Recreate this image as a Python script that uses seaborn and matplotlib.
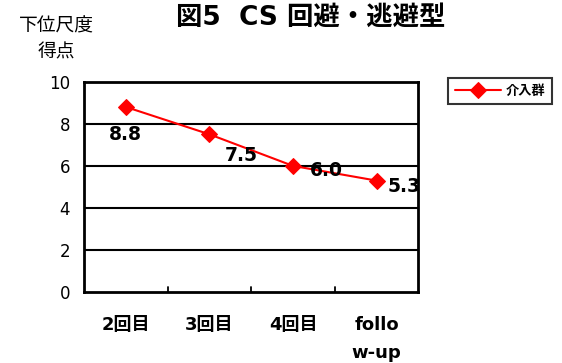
import matplotlib
matplotlib.use("Agg")
import matplotlib.pyplot as plt
import seaborn as sns
import pandas as pd

sns.set_theme(style="white")
plt.rcParams["font.family"] = ["DejaVu Sans", "Noto Sans CJK JP"]
plt.rcParams["text.color"] = "black"
plt.rcParams["xtick.color"] = "black"
plt.rcParams["ytick.color"] = "black"
plt.rcParams["axes.labelcolor"] = "black"

sessions = ["2回目", "3回目", "4回目", "follo\nw-up"]
scores = [8.8, 7.5, 6.0, 5.3]
group = "介入群"
yticks = [0, 2, 4, 6, 8, 10]
# label offsets in points (dx, dy) for each data label
label_offsets = [(0, -20), (23, -15), (24, -3), (20, -4)]

df = pd.DataFrame({"session": sessions, "score": scores, "group": group})
df["pos"] = range(len(sessions))

fig = plt.figure(figsize=(5.62, 3.63), dpi=100)
ax = fig.add_axes([0.1495, 0.195, 0.595, 0.58])

sns.lineplot(data=df, x="pos", y="score", hue="group", palette=["#ff0000"],
             marker="D", markersize=8, markeredgecolor="#ff0000",
             linewidth=1.5, ax=ax, legend=True)

ax.set_xlim(-0.5, len(sessions) - 0.5)
ax.set_ylim(0, 10)
ax.set_yticks(yticks)
ax.set_yticklabels([str(v) for v in yticks], fontsize=12)
ax.set_xticks(range(len(sessions)))
ax.set_xticklabels(sessions, fontsize=13, fontweight="bold", linespacing=1.75,
                   va="top")
ax.tick_params(axis="x", length=0, pad=17)
ax.tick_params(axis="y", length=0, pad=10)
ax.set_xlabel("")
ax.set_ylabel("")

# gridlines
for v in yticks[1:-1]:
    ax.axhline(v, color="black", linewidth=1.5, zorder=0)

# category separator ticks along the bottom
for b in [0.5, 1.5, 2.5]:
    ax.plot([b, b], [0, 0.25], color="black", linewidth=1.3, clip_on=False)

for s in ax.spines.values():
    s.set_color("black")
    s.set_linewidth(2)

for x, y, (dx, dy) in zip(df["pos"], scores, label_offsets):
    ax.annotate(f"{y:.1f}", (x, y), xytext=(dx, dy), textcoords="offset points",
                ha="center", va="center", fontsize=13.5, fontweight="bold",
                color="black", zorder=5)

leg = fig.legend(*ax.get_legend_handles_labels(), loc="upper left",
                 bbox_to_anchor=(0.797, 0.785), frameon=True,
                 fancybox=False, fontsize=9.5, handlelength=3.5,
                 borderpad=0.5, handletextpad=0.4, borderaxespad=0)
ax.get_legend().remove()
leg.get_frame().set_edgecolor("black")
leg.get_frame().set_linewidth(1.5)
for t in leg.get_texts():
    t.set_fontweight("bold")
    t.set_color("black")

fig.text(0.553, 0.952, "図5  CS 回避・逃避型", ha="center", va="center",
         fontsize=19, fontweight="bold", color="black")
fig.text(0.10, 0.928, "下位尺度", ha="center", va="center", fontsize=13.5,
         color="black")
fig.text(0.10, 0.856, "得点", ha="center", va="center", fontsize=13.5,
         color="black")

fig.savefig("out.png", dpi=100)
